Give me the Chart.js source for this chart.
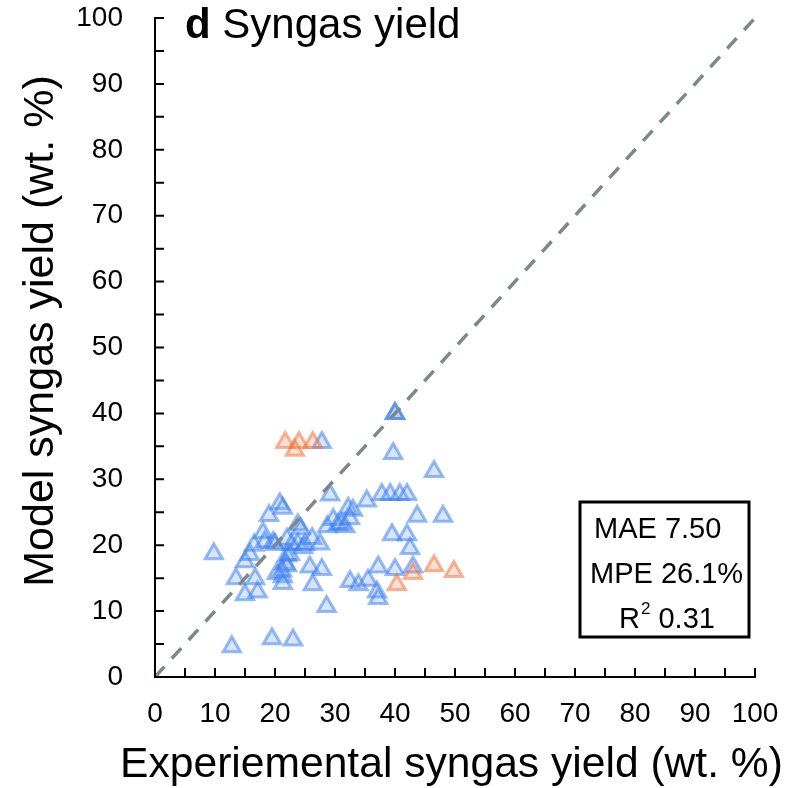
<!DOCTYPE html>
<html>
<head>
<meta charset="utf-8">
<script src="https://cdn.jsdelivr.net/npm/chart.js@4"></script>
<style>
  html, body { margin: 0; padding: 0; background: #fff; }
  #wrap { width: 798px; height: 788px; }
</style>
</head>
<body>
<div id="wrap"><canvas id="syngasChart" width="798" height="788"></canvas></div>
<script>
// experimental vs model syngas yield (wt. %)
const blueExp = [9.8, 12.8, 19.5, 23.0, 13.5, 15.0, 17.1, 15.0, 15.8, 16.7,
    16.5, 18.0, 18.3, 19.0, 19.7, 20.3, 20.0, 20.8, 21.3, 21.3, 21.3, 21.7, 22.0, 22.0,
    22.8, 22.5, 22.0, 21.2, 23.8, 23.8, 24.3, 24.7, 25.0, 26.2, 25.8, 27.8, 26.3, 27.5,
    28.6, 28.7, 29.2, 29.7, 30.5, 31.7, 31.0, 32.2, 33.0, 32.5, 35.3, 32.5, 33.9, 35.5,
    37.0, 37.2, 37.2, 37.8, 39.2, 40.8, 42.0, 39.5, 42.0, 42.5, 40.0, 43.0, 43.7, 48.0,
    39.7, 46.5, 40.0, 40.0, 27.8];
const blueModel = [18.7, 4.6, 5.8, 5.6, 14.9, 12.5, 12.9, 17.5, 18.6, 14.9,
    20.0, 21.9, 20.5, 24.5, 20.4, 15.7, 20.1, 26.3, 25.6, 15.2, 14.2, 17.2, 18.4, 20.9,
    20.1, 18.6, 16.9, 16.1, 20.2, 23.1, 22.5, 19.6, 20.1, 21.0, 16.7, 16.3, 14.0, 20.2,
    10.7, 22.8, 27.6, 23.9, 23.1, 22.8, 23.3, 25.6, 25.3, 24.0, 26.7, 14.5, 14.0, 14.7,
    12.9, 11.9, 16.7, 27.7, 27.7, 27.7, 27.7, 21.6, 21.6, 19.5, 16.3, 16.7, 24.4, 24.4,
    33.9, 31.2, 40.0, 40.0, 35.6];
const orangeExp = [21.7, 24.0, 23.3, 26.3, 40.3, 43.0, 46.5, 49.8];
const orangeModel = [35.6, 35.6, 34.4, 35.6, 14.0, 15.7, 16.9, 16.0];
const parityLine = [0, 100];
const stats = [['MAE', '7.50'], ['MPE', '26.1%'], ['R', '0.31']];
const xTitle = 'Experiemental syngas yield (wt. %)';
const yTitle = 'Model syngas yield (wt. %)';

const FONT = '"Liberation Sans", Arial, sans-serif';

function toPoints(xs, ys) {
    return xs.map((x, i) => ({ x: x, y: ys[i] }));
}

// inward tick marks every 5
const innerTicks = {
    id: 'innerTicks',
    afterDraw(chart) {
        const ctx = chart.ctx;
        const xs = chart.scales.x, ys = chart.scales.y;
        const a = chart.chartArea;
        ctx.save();
        ctx.strokeStyle = '#000';
        ctx.lineWidth = 2;
        ctx.beginPath();
        xs.ticks.forEach(t => {
            const px = xs.getPixelForValue(t.value);
            ctx.moveTo(px, a.bottom);
            ctx.lineTo(px, a.bottom - 9);
        });
        ys.ticks.forEach(t => {
            const py = ys.getPixelForValue(t.value);
            ctx.moveTo(a.left, py);
            ctx.lineTo(a.left + 9, py);
        });
        ctx.stroke();
        ctx.restore();
    }
};

// axis titles, panel title and stats box
const annotations = {
    id: 'annotations',
    afterDraw(chart) {
        const ctx = chart.ctx;
        ctx.save();
        ctx.fillStyle = '#000';
        ctx.textBaseline = 'alphabetic';

        // axis titles
        ctx.textAlign = 'center';
        ctx.font = '42.6px ' + FONT;
        ctx.fillText(xTitle, 451.5, 777);
        ctx.save();
        ctx.translate(53, 331);
        ctx.rotate(-Math.PI / 2);
        ctx.font = '43px ' + FONT;
        ctx.fillText(yTitle, 0, 0);
        ctx.restore();

        // panel title
        ctx.textAlign = 'left';
        ctx.font = 'bold 42px ' + FONT;
        ctx.fillText('d', 185, 38);
        const dw = ctx.measureText('d ').width;
        ctx.font = '42px ' + FONT;
        ctx.fillText('Syngas yield', 185 + dw, 38);

        // stats box
        ctx.lineWidth = 3;
        ctx.strokeStyle = '#000';
        ctx.strokeRect(580, 502, 169, 135);

        ctx.font = '29px ' + FONT;
        ctx.fillText(stats[0][0] + ' ' + stats[0][1], 594, 538);
        ctx.fillText(stats[1][0] + ' ' + stats[1][1], 590, 583);
        ctx.fillText(stats[2][0], 619, 628);
        const rw = ctx.measureText(stats[2][0]).width;
        ctx.font = '17px ' + FONT;
        ctx.fillText('2', 619 + rw + 1, 614);
        const sw = ctx.measureText('2').width;
        ctx.font = '29px ' + FONT;
        ctx.fillText(' ' + stats[2][1], 619 + rw + sw + 1, 628);
        ctx.restore();
    }
};

const tickFont = { family: FONT, size: 28 };

const ctx = document.getElementById('syngasChart').getContext('2d');
new Chart(ctx, {
    type: 'scatter',
    data: {
        datasets: [{
            label: 'parity',
            data: toPoints(parityLine, parityLine),
            showLine: true,
            borderColor: 'rgb(125,137,132)',
            borderWidth: 3.5,
            borderDash: [14, 11],
            pointRadius: 0,
            fill: false
        }, {
            label: 'test',
            data: toPoints(orangeExp, orangeModel),
            pointStyle: 'triangle',
            pointRadius: 10,
            borderWidth: 3,
            borderColor: 'rgba(240,110,50,0.5)',
            backgroundColor: 'rgba(245,150,110,0.3)'
        }, {
            label: 'train',
            data: toPoints(blueExp, blueModel),
            pointStyle: 'triangle',
            pointRadius: 10,
            borderWidth: 3,
            borderColor: 'rgba(50,120,240,0.5)',
            backgroundColor: 'rgba(120,170,240,0.3)'
        }]
    },
    options: {
        responsive: false,
        animation: false,
        layout: { padding: { top: 18, right: 43, left: 0, bottom: 0 } },
        plugins: {
            legend: { display: false },
            tooltip: { enabled: false }
        },
        scales: {
            x: {
                type: 'linear',
                min: 0,
                max: 100,
                afterFit(scale) {
                    scale.height = 111;
                    scale.paddingLeft = 0;
                    scale.paddingRight = 0;
                },
                grid: { drawOnChartArea: false, drawTicks: false },
                border: { color: '#000', width: 2 },
                ticks: {
                    stepSize: 5,
                    padding: 20,
                    color: '#000',
                    font: tickFont,
                    maxRotation: 0,
                    autoSkip: false,
                    callback: v => (v % 10 === 0 ? v : '')
                },
                title: { display: false }
            },
            y: {
                type: 'linear',
                min: 0,
                max: 100,
                afterFit(scale) {
                    scale.width = 155;
                    scale.paddingTop = 0;
                    scale.paddingBottom = 0;
                },
                grid: { drawOnChartArea: false, drawTicks: false },
                border: { color: '#000', width: 2 },
                ticks: {
                    stepSize: 5,
                    padding: 32,
                    color: '#000',
                    font: tickFont,
                    autoSkip: false,
                    callback: v => (v % 10 === 0 ? v : '')
                },
                title: { display: false }
            }
        }
    },
    plugins: [innerTicks, annotations]
});
</script>
</body>
</html>
